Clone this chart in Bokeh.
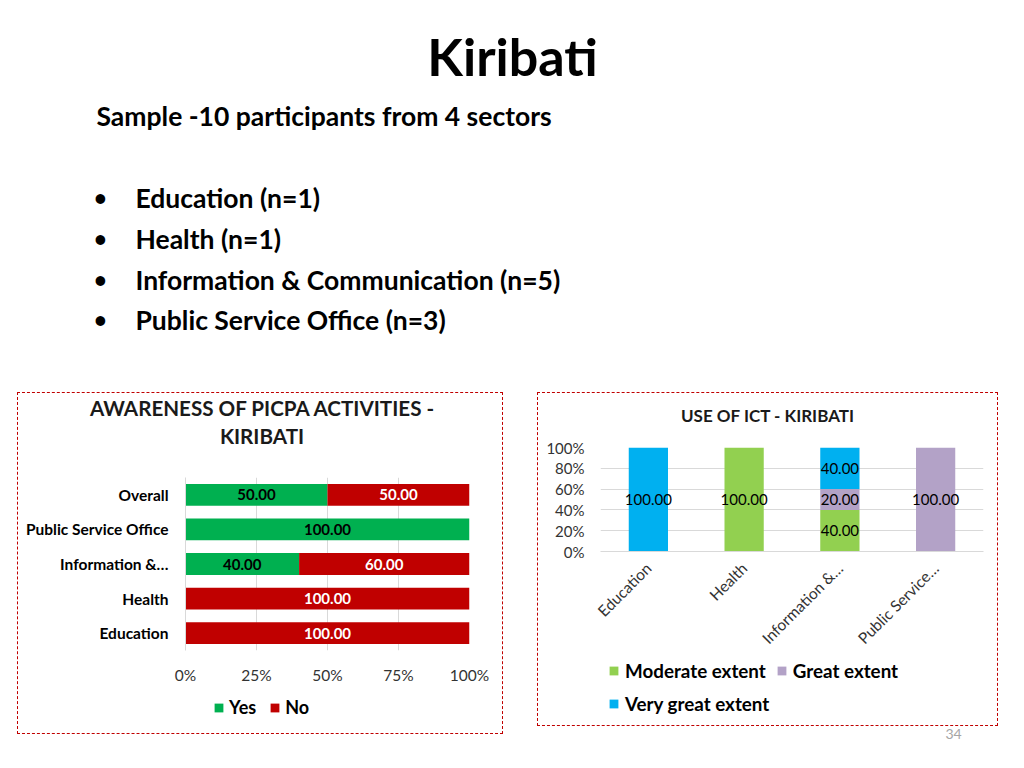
import math
from bokeh.plotting import figure
from bokeh.models import (ColumnDataSource, FactorRange, Range1d, Legend, LegendItem,
                          FixedTicker, PrintfTickFormatter, Spacer, Div)
from bokeh.layouts import row, column
from bokeh.core.properties import value, field
from bokeh.embed import file_html
from bokeh.resources import INLINE

FONT = "Lato"

# ---------------- data ----------------
slide_title = "Kiribati"
subtitle = "Sample -10 participants from 4 sectors"
bullets = ["Education (n=1)", "Health (n=1)",
           "Information & Communication (n=5)", "Public Service Office (n=3)"]

aw_title = ["AWARENESS OF PICPA ACTIVITIES -", "KIRIBATI"]
aw_categories = ["Education", "Health", "Information &…", "Public Service Office", "Overall"]
aw_yes = [0, 0, 40, 100, 50]
aw_no = [100, 100, 60, 0, 50]
aw_ticks = [0, 25, 50, 75, 100]
aw_series = ["Yes", "No"]

ict_title = "USE OF ICT - KIRIBATI"
ict_categories = ["Education", "Health", "Information &…", "Public Service…"]
ict_moderate = [0, 100, 40, 0]
ict_great = [0, 0, 20, 100]
ict_very_great = [100, 0, 40, 0]
ict_ticks = [0, 20, 40, 60, 80, 100]
ict_series = ["Moderate extent", "Great extent", "Very great extent"]

page_number = "34"

GREEN = "#00b050"
RED = "#c00000"
LGREEN = "#92d050"
LAVENDER = "#b3a2c7"
BLUE = "#00b0f0"
GRID = "#d9d9d9"
BOX = {"border": "1px dashed #c00000"}


def blank(w, h, x0=0, y0=0):
    """A figure whose frame is the whole area; data coords = pixels from top-left."""
    f = figure(width=w, height=h, x_range=Range1d(x0, x0 + w), y_range=Range1d(y0 + h, y0),
               output_backend="svg", toolbar_location=None,
               x_axis_location=None, y_axis_location=None, min_border=0,
               outline_line_color=None)
    f.grid.visible = False
    return f


def strip(w, h, xr, yr):
    """Legend strip; the column layout aligns its frame with the chart frame above."""
    f = figure(width=w, height=h, x_range=xr, y_range=yr, output_backend="svg",
               toolbar_location=None, x_axis_location=None, y_axis_location=None,
               min_border=0, outline_line_color=None)
    f.grid.visible = False
    return f


def txt(f, x, y, t, size, bold=True, align="left", color="black"):
    f.text(x=x, y=y, text=t, text_font=value(FONT),
           text_font_style="bold" if bold else "normal", text_font_size=size,
           text_align=align, text_baseline="middle", text_color=color)


def title_div(lines, w, h, size, pad_top, pad_left, line_h):
    html = ('<div style="box-sizing:border-box;width:%dpx;margin:0;padding:%spx 0 0 %spx;'
            'text-align:center;font-family:%s;font-weight:bold;font-size:%s;'
            'line-height:%spx;color:#1a1a1a;white-space:nowrap">%s</div>'
            % (w, pad_top, pad_left, FONT, size, line_h, "<br>".join(lines)))
    return Div(text=html, width=w, height=h, margin=0)


LEG = dict(orientation="horizontal", border_line_color=None, background_fill_alpha=0,
           padding=0, margin=0, glyph_width=11, glyph_height=11, label_height=20,
           label_text_font=FONT, label_text_font_style="bold", label_text_color="black",
           inactive_fill_alpha=0)

# ---------------- header ----------------
hdr = blank(1010, 392)
txt(hdr, [512], [55], [slide_title], "52px", align="center")
txt(hdr, [96], [115.5], [subtitle], "26.5px")
b_y = [197.5, 238.5, 279.5, 319.5]
txt(hdr, [100] * 4, [v - 1 for v in b_y], ["•"] * 4, "22px", align="center")
txt(hdr, [135] * 4, b_y, bullets, "26.5px")

# ---------------- left chart ----------------
LW = 484
tl = title_div(aw_title, LW, 60, "20.6px", 2, 4, 27.5)

left = figure(width=LW, height=233, y_range=FactorRange(factors=aw_categories),
              x_range=Range1d(0, 100), output_backend="svg", toolbar_location=None,
              min_border_left=167, min_border_right=33, min_border_top=24, min_border_bottom=35,
              outline_line_color=None)
src_l = ColumnDataSource(dict(cat=aw_categories, yes=aw_yes, no=aw_no))
left.hbar_stack(["yes", "no"], y="cat", height=0.63, color=[GREEN, RED],
                line_color=None, source=src_l)

lx, ly, lt, lc = [], [], [], []
for c, yv, nv in zip(aw_categories, aw_yes, aw_no):
    if yv > 0:
        lx.append(yv / 2); ly.append(c); lt.append(f"{yv:.2f}"); lc.append("black")
    if nv > 0:
        lx.append(yv + nv / 2); ly.append(c); lt.append(f"{nv:.2f}"); lc.append("white")
left.text(x="x", y="y", text="t", text_color=field("c"),
          source=ColumnDataSource(dict(x=lx, y=ly, t=lt, c=lc)),
          text_align="center", text_baseline="middle", text_font=value(FONT),
          text_font_style="bold", text_font_size="15px")

left.xaxis.ticker = FixedTicker(ticks=aw_ticks)
left.xaxis.formatter = PrintfTickFormatter(format="%d%%")
left.xaxis.axis_line_color = None
left.xaxis.major_tick_line_color = None
left.xaxis.minor_tick_line_color = None
left.xaxis.major_label_standoff = 9
left.xaxis.major_label_text_font = FONT
left.xaxis.major_label_text_font_size = "15.5px"
left.xaxis.major_label_text_color = "#333333"
left.xgrid.ticker = FixedTicker(ticks=aw_ticks)
left.xgrid.grid_line_color = GRID
left.ygrid.grid_line_color = None
left.yaxis.axis_line_color = GRID
left.yaxis.major_tick_line_color = None
left.yaxis.major_label_standoff = 11
left.yaxis.major_label_text_font = FONT
left.yaxis.major_label_text_font_style = "bold"
left.yaxis.major_label_text_font_size = "15.5px"
left.yaxis.major_label_text_color = "black"

LLH = 47
ll = strip(LW, LLH, left.x_range, left.y_range)
sw_l = ll.hbar_stack(["yes", "no"], y="cat", height=0.63, color=[GREEN, RED],
                     line_color=None, source=src_l, visible=False)
ll.add_layout(Legend(items=[LegendItem(label=s, renderers=[r]) for s, r in zip(aw_series, sw_l)],
                     location=(28, 15), spacing=13, label_standoff=5,
                     label_text_font_size="18px", **LEG))

left_box = column(tl, left, ll, styles=BOX)

# ---------------- right chart ----------------
RW = 459
tr = title_div([ict_title], RW, 40, "17px", 13, 0, 20)

right = figure(width=RW, height=225, x_range=FactorRange(factors=ict_categories),
               y_range=Range1d(0, 100), output_backend="svg", toolbar_location=None,
               min_border_left=62, min_border_right=14, min_border_top=14,
               min_border_bottom=107, outline_line_color=None)
src_r = ColumnDataSource(dict(cat=ict_categories, mod=ict_moderate, great=ict_great,
                              very=ict_very_great))
right.vbar_stack(["mod", "great", "very"], x="cat", width=0.41,
                 color=[LGREEN, LAVENDER, BLUE], line_color=None, source=src_r)

rx, ry, rt = [], [], []
for c, a, b, d in zip(ict_categories, ict_moderate, ict_great, ict_very_great):
    base = 0
    for v in (a, b, d):
        if v > 0:
            rx.append(c); ry.append(base + v / 2); rt.append(f"{v:.2f}")
        base += v
right.text(x="x", y="y", text="t", source=ColumnDataSource(dict(x=rx, y=ry, t=rt)),
           text_align="center", text_baseline="middle", text_font=value(FONT),
           text_font_size="15px", text_color="black")

right.yaxis.ticker = FixedTicker(ticks=ict_ticks)
right.yaxis.formatter = PrintfTickFormatter(format="%d%%")
right.yaxis.axis_line_color = None
right.yaxis.major_tick_line_color = None
right.yaxis.minor_tick_line_color = None
right.yaxis.major_label_standoff = 10
right.yaxis.major_label_text_font = FONT
right.yaxis.major_label_text_font_size = "15px"
right.yaxis.major_label_text_color = "#333333"
right.ygrid.ticker = FixedTicker(ticks=ict_ticks)
right.ygrid.grid_line_color = GRID
right.xgrid.grid_line_color = None
right.xaxis.axis_line_color = GRID
right.xaxis.major_tick_line_color = None
right.xaxis.major_tick_out = 0
right.xaxis.major_tick_in = 0
right.xaxis.major_label_orientation = math.pi / 4
right.xaxis.major_label_standoff = 14
right.xaxis.major_label_text_font = FONT
right.xaxis.major_label_text_font_size = "15.5px"
right.xaxis.major_label_text_color = "#333333"

RLH = 67
rl = strip(RW, RLH, right.x_range, right.y_range)
sw_r = rl.vbar_stack(["mod", "great", "very"], x="cat", width=0.41,
                     color=[LGREEN, LAVENDER, BLUE], line_color=None, source=src_r,
                     visible=False)
rkw = dict(spacing=10, label_standoff=6, label_text_font_size="18.8px", **LEG)
rl.add_layout(Legend(items=[LegendItem(label=ict_series[0], renderers=[sw_r[0]]),
                            LegendItem(label=ict_series[1], renderers=[sw_r[1]])],
                     location=(8, 43), **rkw))
rl.add_layout(Legend(items=[LegendItem(label=ict_series[2], renderers=[sw_r[2]])],
                     location=(8, 10.5), **rkw))

right_box = column(tr, right, rl, styles=BOX)

# ---------------- footer (page number) ----------------
foot = blank(461, 20, x0=537, y0=726)
txt(foot, [953], [733], [page_number], "14px", bold=False, align="center", color="#a6a6a6")

layout = column(hdr, row(Spacer(width=17, height=342), left_box, Spacer(width=34, height=342),
                         column(right_box, foot)))

open("out.html", "w").write(file_html(layout, INLINE))
